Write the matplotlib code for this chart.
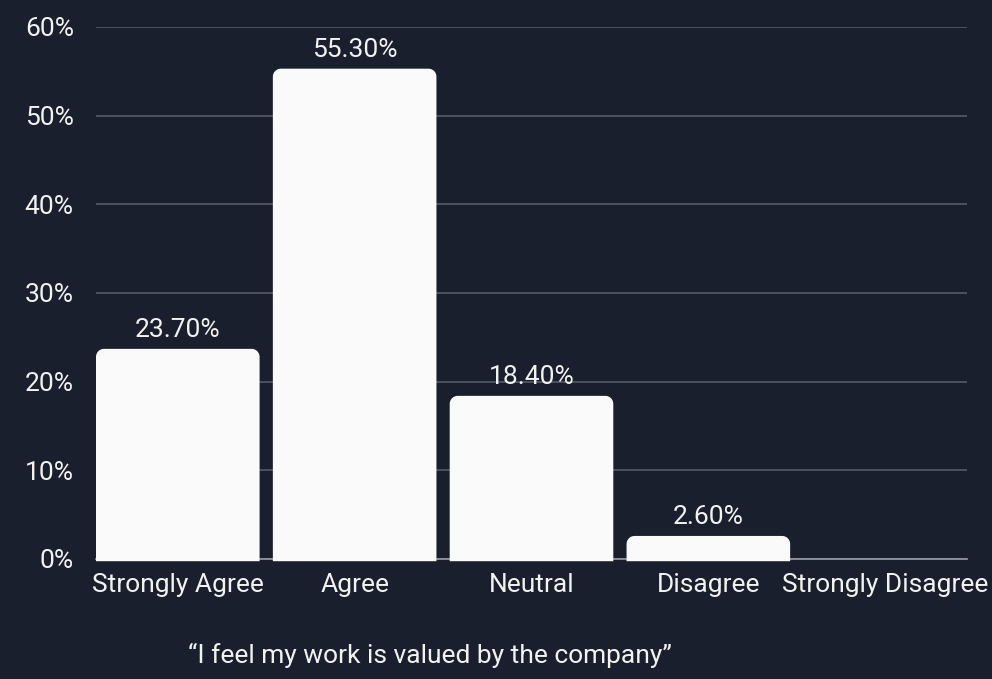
import numpy as np
import matplotlib.pyplot as plt
from matplotlib.patches import Polygon

### data
categories = ['Strongly Agree', 'Agree', 'Neutral', 'Disagree', 'Strongly Disagree']
values = [23.7, 55.3, 18.4, 2.6, 0.0]
y_ticks = [0, 10, 20, 30, 40, 50, 60]
title = '\u201cI feel my work is valued by the company\u201d'

### style
bg = '#1a1f2e'
text_color = '#f2f2f2'
bar_color = '#fafafa'
grid_color = '#555a69'
plt.rcParams['font.family'] = ['Roboto', 'DejaVu Sans']

fig = plt.figure(figsize=(9.92, 6.79), dpi=100, facecolor=bg)
ax = fig.add_axes([96 / 992, 120 / 679, 871 / 992, 532 / 679])
ax.set_facecolor(bg)

width = 0.925
ax.set_xlim(-width / 2, len(categories) - 1 + width / 2)
ax.set_ylim(0, 60)

### grid
ax.set_yticks(y_ticks)
ax.set_yticklabels([f'{t}%' for t in y_ticks])
ax.grid(axis='y', color=grid_color, linewidth=1.2)
ax.set_axisbelow(True)
for side in ['top', 'right', 'left']:
    ax.spines[side].set_visible(False)
ax.spines['bottom'].set_color('#9a9ca5')
ax.spines['bottom'].set_linewidth(1.2)

### bars with rounded top corners
px_x = 871 / (len(categories) - 1 + width)   # pixels per x unit
px_y = 532 / 60                              # pixels per y unit
rx = 8 / px_x
ry = 8 / px_y
t = np.linspace(0, np.pi / 2, 12)
for i, v in enumerate(values):
    if v <= 0:
        continue
    x0, x1 = i - width / 2, i + width / 2
    r_y = min(ry, v / 2)
    left = np.column_stack([x0 + rx - rx * np.cos(t), v - r_y + r_y * np.sin(t)])
    right = np.column_stack([x1 - rx + rx * np.sin(t), v - r_y + r_y * np.cos(t)])
    pts = np.vstack([[[x0, -0.25]], left, right, [[x1, -0.25]]])
    ax.add_patch(Polygon(pts, closed=True, facecolor=bar_color, edgecolor='none',
                         zorder=3, clip_on=False))
    ax.annotate(f'{v:.2f}%', (i, v), xytext=(0, 5), textcoords='offset points',
                ha='center', va='bottom', color=text_color, fontsize=19)

ax.set_xticks(range(len(categories)))
ax.set_xticklabels(categories)
ax.tick_params(axis='both', length=0, colors=text_color, labelsize=19)
ax.tick_params(axis='y', pad=16)
ax.tick_params(axis='x', pad=10)

fig.text(430 / 992, 24 / 679, title, ha='center', va='center',
         color=text_color, fontsize=19)

fig.savefig('out.png', dpi=100, facecolor=bg)
